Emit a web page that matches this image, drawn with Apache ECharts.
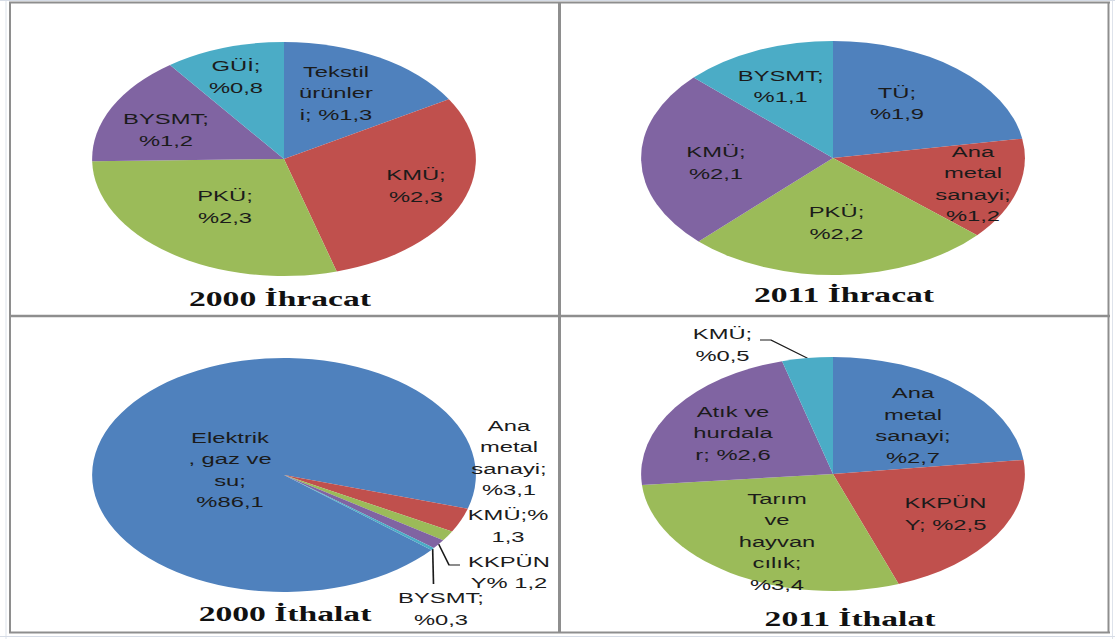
<!DOCTYPE html>
<html>
<head>
<meta charset="utf-8">
<script src="https://cdn.jsdelivr.net/npm/echarts@6/dist/echarts.min.js"></script>
<style>
  html, body { margin: 0; padding: 0; background: #fff; overflow: hidden; }
  /* the original picture is stretched sideways, so the whole chart is too */
  #main { position: absolute; left: 0; top: 0; width: 680px; height: 639px;
          transform: scaleX(1.64); transform-origin: 0 0; }
</style>
</head>
<body>
<div id="main"></div>
<script>
// 2000 İhracat
const ihr2000Names = ['Tekstil ürünleri', 'KMÜ', 'PKÜ', 'BYSMT', 'GÜİ'];
const ihr2000Values = [1.3, 2.3, 2.3, 1.2, 0.8];
const ihr2000Labels = ['Tekstil\nürünler\ni; %1,3', 'KMÜ;\n%2,3', 'PKÜ;\n%2,3', 'BYSMT;\n%1,2', 'GÜİ;\n%0,8'];

// 2011 İhracat
const ihr2011Names = ['TÜ', 'Ana metal sanayi', 'PKÜ', 'KMÜ', 'BYSMT'];
const ihr2011Values = [1.9, 1.2, 2.2, 2.1, 1.1];
const ihr2011Labels = ['TÜ;\n%1,9', 'Ana\nmetal\nsanayi;\n%1,2', 'PKÜ;\n%2,2', 'KMÜ;\n%2,1', 'BYSMT;\n%1,1'];

// 2000 İthalat
const ith2000Names = ['Elektrik, gaz ve su', 'Ana metal sanayi', 'KMÜ', 'KKPÜNY', 'BYSMT'];
const ith2000Values = [86.1, 3.1, 1.3, 1.2, 0.3];
const ith2000Labels = ['Elektrik\n, gaz ve\nsu;\n%86,1', 'Ana\nmetal\nsanayi;\n%3,1', 'KMÜ;%\n1,3', 'KKPÜN\nY% 1,2', 'BYSMT;\n%0,3'];

// 2011 İthalat
const ith2011Names = ['Ana metal sanayi', 'KKPÜNY', 'Tarım ve hayvancılık', 'Atık ve hurdalar', 'KMÜ'];
const ith2011Values = [2.7, 2.5, 3.4, 2.6, 0.5];
const ith2011Labels = ['Ana\nmetal\nsanayi;\n%2,7', 'KKPÜN\nY; %2,5', 'Tarım\nve\nhayvan\ncılık;\n%3,4', 'Atık ve\nhurdala\nr; %2,6', 'KMÜ;\n%0,5'];

const K = 1.64;   // horizontal stretch
const R = 117;
const COLORS = ['#4F81BD', '#C0504D', '#9BBB59', '#8064A2', '#4BACC6'];

// panel layout, page pixels (label offsets from pie centre)
const panels = [
  { names: ihr2000Names, values: ihr2000Values, labels: ihr2000Labels, title: '2000 İhracat',
    cx: 284, cy: 159, start: 90, tx: 280, ty: 299,
    labelAt: [[52, -66], [132, 27], [-59, 48], [-118, -29], [-48, -82]] },
  { names: ihr2011Names, values: ihr2011Values, labels: ihr2011Labels, title: '2011 İhracat',
    cx: 833, cy: 158, start: 90, tx: 844, ty: 295,
    labelAt: [[64, -54.5], [140, 26], [3.5, 65], [-117, 5], [-52.3, -71.5]] },
  { names: ith2000Names, values: ith2000Values, labels: ith2000Labels, title: '2000 İthalat',
    cx: 284, cy: 475, start: 320.2, tx: 285, ty: 614,
    labelAt: [[-54, -5], [225, -17], [224, 51], [225, 97.5], [157, 134]],
    lines: { 3: [[165, 90], [176, 90]], 4: [[149.5, 109]] } },
  { names: ith2011Names, values: ith2011Values, labels: ith2011Labels, title: '2011 İthalat',
    cx: 833, cy: 474, start: 90, tx: 850, ty: 619.5,
    labelAt: [[80, -48.5], [112.5, 40], [-56, 67.5], [-100, -41], [-110.5, -129]],
    lines: { 4: [[-62, -134], [-73, -134]] } }
];

function pieSeries(p) {
  const lines = p.lines || {};
  return {
    type: 'pie',
    center: [p.cx / K, p.cy],
    radius: R,
    startAngle: p.start,
    clockwise: true,
    avoidLabelOverlap: false,
    silent: true,
    itemStyle: { borderWidth: 0 },
    label: {
      position: 'inside',
      color: '#1b1b1b',
      fontFamily: 'Liberation Sans',
      fontSize: 14.5,
      lineHeight: 21.5,
      formatter: function (params) {
        return p.labels[params.dataIndex];
      }
    },
    labelLine: { show: false },
    data: p.values.map(function (v, i) {
      const item = { name: p.names[i], value: v, itemStyle: { color: COLORS[i] } };
      if (lines[i]) {
        item.label = { position: 'outside' };
        item.labelLine = { show: true, length: 10, length2: 10, lineStyle: { color: '#1b1b1b', width: 1 } };
      }
      return item;
    }),
    labelLayout: function (params) {
      const o = p.labelAt[params.dataIndex];
      const res = {
        x: (p.cx + o[0]) / K,
        y: p.cy + o[1],
        align: 'center',
        verticalAlign: 'middle'
      };
      const ln = lines[params.dataIndex];
      if (ln && params.labelLinePoints) {
        res.labelLinePoints = [params.labelLinePoints[0]].concat(ln.map(function (q) {
          return [(p.cx + q[0]) / K, p.cy + q[1]];
        }));
      }
      return res;
    }
  };
}

function vline(x, y1, y2, w, color) {
  return { type: 'line', silent: true, shape: { x1: x / K, y1: y1, x2: x / K, y2: y2 },
           style: { stroke: color, lineWidth: w / K } };
}
function hline(y, x1, x2, w, color) {
  return { type: 'line', silent: true, shape: { x1: x1 / K, y1: y, x2: x2 / K, y2: y },
           style: { stroke: color, lineWidth: w } };
}

const frame = '#8e8e8e';
const grid = '#d6dce6';
const graphics = [
  // excel cell lines outside the chart areas
  vline(6, 0, 639, 1, grid),
  vline(1112.5, 0, 639, 1, grid),
  hline(636.5, 0, 1115, 1, grid),
  hline(0.5, 0, 1115, 1, grid),
  // chart area borders
  hline(2.5, 9, 1110, 2, frame),
  hline(316, 9, 1110, 2.5, frame),
  hline(632.5, 9, 1110, 2, frame),
  vline(10, 2, 633, 2, frame),
  vline(559.5, 2, 633, 3, frame),
  vline(1108.5, 2, 633, 2, frame)
];
panels.forEach(function (p) {
  graphics.push({
    type: 'text', silent: true, x: p.tx / K, y: p.ty,
    style: { text: p.title, fill: '#111', fontFamily: 'Liberation Serif', fontWeight: 'bold',
             fontSize: 20.5, align: 'center', verticalAlign: 'middle' }
  });
});

const myChart = echarts.init(document.getElementById('main'), null, { renderer: 'svg' });
myChart.setOption({
  animation: false,
  backgroundColor: '#fff',
  graphic: graphics,
  series: panels.map(pieSeries)
});
</script>
</body>
</html>
